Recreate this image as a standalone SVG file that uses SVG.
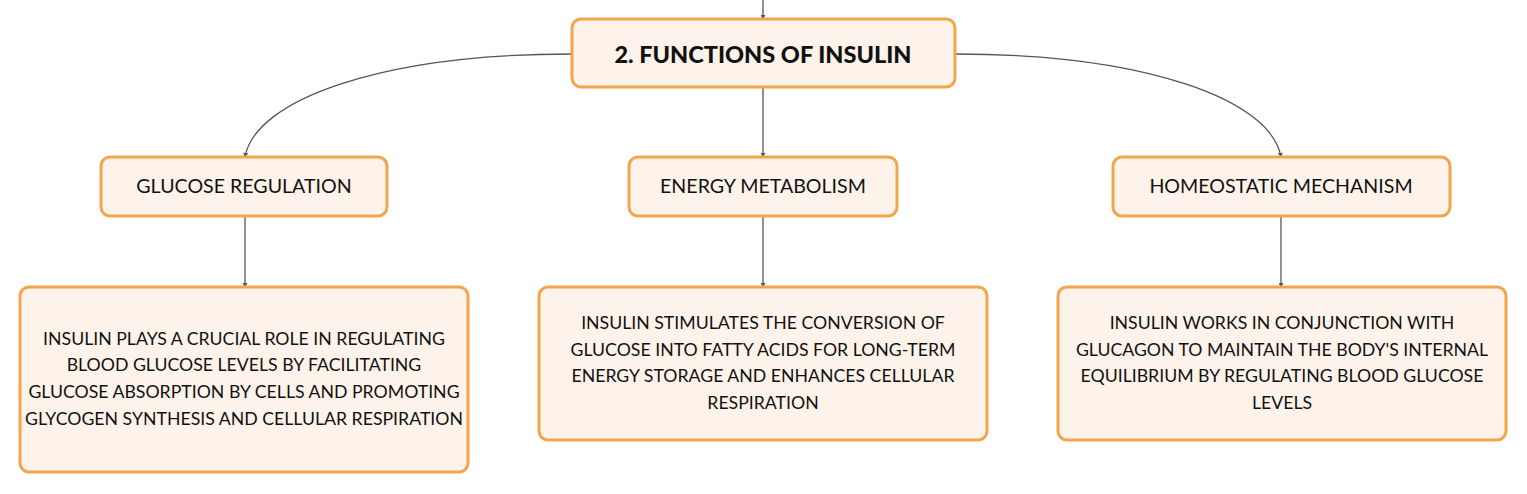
<svg xmlns="http://www.w3.org/2000/svg" width="1527" height="494" viewBox="0 0 1527 494">
<style>
.box{fill:#fdf3ea;stroke:#f2a54a;stroke-width:3}
.t{font-family:Lato,"Open Sans",sans-serif;fill:#111;text-anchor:middle}
.h{font-size:23.5px;font-weight:900}
.m{font-size:19.6px}
.b{font-size:17.7px}
.c{fill:none;stroke:#555;stroke-width:1.3}
</style>
<defs>
<marker id="a" viewBox="0 0 6 6" refX="5" refY="3" markerWidth="5" markerHeight="5" orient="auto" markerUnits="userSpaceOnUse">
<path d="M0,0 L6,3 L0,6 Z" fill="#555"/>
</marker>
</defs>
<rect width="1527" height="494" fill="#fff"/>
<g id="connectors">
<path class="c" d="M763,0 V19" marker-end="url(#a)"/>
<path class="c" d="M572,54 C380,54 255,100 245,157" marker-end="url(#a)"/>
<path class="c" d="M763,87 V157" marker-end="url(#a)"/>
<path class="c" d="M955,54 C1147,54 1271,100 1281,157" marker-end="url(#a)"/>
<path class="c" d="M245,216 V287" marker-end="url(#a)"/>
<path class="c" d="M763,216 V287" marker-end="url(#a)"/>
<path class="c" d="M1281,216 V287" marker-end="url(#a)"/>
</g>
<g id="n0">
<rect class="box" x="572" y="19" width="383" height="68" rx="9"/>
<text class="t h" x="763" y="62.5">2. FUNCTIONS OF INSULIN</text>
</g>
<g id="n1">
<rect class="box" x="101" y="157" width="286" height="59" rx="9"/>
<text class="t m" x="244" y="193">GLUCOSE REGULATION</text>
</g>
<g id="n2">
<rect class="box" x="629" y="157" width="268" height="59" rx="9"/>
<text class="t m" x="763" y="193">ENERGY METABOLISM</text>
</g>
<g id="n3">
<rect class="box" x="1113" y="157" width="337" height="59" rx="9"/>
<text class="t m" x="1281" y="193">HOMEOSTATIC MECHANISM</text>
</g>
<g id="n4">
<rect class="box" x="20" y="287" width="448" height="185" rx="9"/>
<text class="t b" x="244"><tspan x="244" y="345">INSULIN PLAYS A CRUCIAL ROLE IN REGULATING</tspan><tspan x="244" y="371">BLOOD GLUCOSE LEVELS BY FACILITATING</tspan><tspan x="244" y="398">GLUCOSE ABSORPTION BY CELLS AND PROMOTING</tspan><tspan x="244" y="425">GLYCOGEN SYNTHESIS AND CELLULAR RESPIRATION</tspan></text>
</g>
<g id="n5">
<rect class="box" x="539" y="287" width="448" height="153" rx="9"/>
<text class="t b" x="763"><tspan x="763" y="329">INSULIN STIMULATES THE CONVERSION OF</tspan><tspan x="763" y="356">GLUCOSE INTO FATTY ACIDS FOR LONG-TERM</tspan><tspan x="763" y="382">ENERGY STORAGE AND ENHANCES CELLULAR</tspan><tspan x="763" y="409">RESPIRATION</tspan></text>
</g>
<g id="n6">
<rect class="box" x="1058" y="287" width="448" height="153" rx="9"/>
<text class="t b" x="1282"><tspan x="1282" y="329">INSULIN WORKS IN CONJUNCTION WITH</tspan><tspan x="1282" y="356">GLUCAGON TO MAINTAIN THE BODY'S INTERNAL</tspan><tspan x="1282" y="382">EQUILIBRIUM BY REGULATING BLOOD GLUCOSE</tspan><tspan x="1282" y="409">LEVELS</tspan></text>
</g>
</svg>
